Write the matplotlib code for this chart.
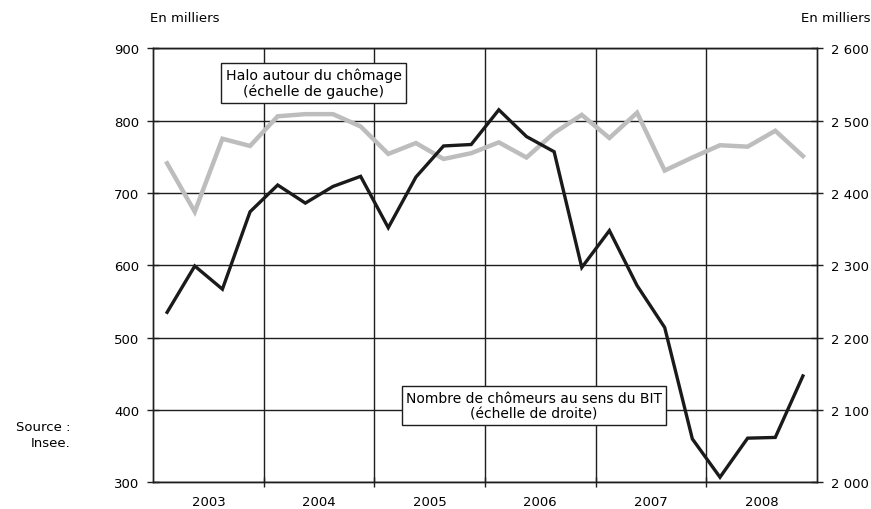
import matplotlib
matplotlib.use("Agg")
import matplotlib.pyplot as plt

plt.rcParams['font.family'] = ['DejaVu Sans']

years = ["2003", "2004", "2005", "2006", "2007", "2008"]
quarters = list(range(24))

# Halo autour du chômage (left scale, thousands)
halo = [741, 674, 775, 765, 806, 809, 809, 792, 754, 769, 747, 755,
        770, 749, 783, 808, 776, 811, 731, 749, 766, 764, 786, 751]

# Nombre de chômeurs au sens du BIT (right scale, thousands)
chomeurs = [2235, 2299, 2267, 2374, 2411, 2386, 2409, 2423, 2352, 2422, 2465, 2467,
            2515, 2478, 2457, 2297, 2348, 2272, 2214, 2060, 2007, 2061, 2062, 2147]

left_ticks = [300, 400, 500, 600, 700, 800, 900]
right_ticks = [2000, 2100, 2200, 2300, 2400, 2500, 2600]

fig = plt.figure(figsize=(8.71, 5.10), dpi=100)
ax = fig.add_axes([0.176, 0.0524, 0.7617, 0.8509])
ax2 = ax.twinx()

ax.set_xlim(-0.5, 23.5)
ax.set_ylim(300, 900)
ax2.set_ylim(2000, 2600)

# grid
for y in left_ticks:
    ax.axhline(y, color='#1e1e1e', lw=1.0, zorder=1)
for b in [3.5, 7.5, 11.5, 15.5, 19.5]:
    ax.axvline(b, color='#1e1e1e', lw=1.0, zorder=1)

ax.plot(quarters, halo, color='#bdbdbd', lw=3.2, solid_joinstyle='miter', zorder=3)
ax2.plot(quarters, chomeurs, color='#1a1a1a', lw=2.4, solid_joinstyle='miter', zorder=4)

ax.set_yticks(left_ticks)
ax.set_yticklabels([str(v) for v in left_ticks])
ax2.set_yticks(right_ticks)
ax2.set_yticklabels([f"{v // 1000} {v % 1000:03d}" for v in right_ticks])

ax.set_xticks([3.5, 7.5, 11.5, 15.5, 19.5])
ax.set_xticklabels([])
ax.set_xticks([1.5 + 4 * i for i in range(6)], minor=True)
ax.set_xticklabels(years, minor=True)
ax.tick_params(axis='x', which='major', direction='inout', length=7, width=1, color='#1e1e1e')
ax.tick_params(axis='x', which='minor', length=0, pad=9, labelsize=9.5)
ax.tick_params(axis='y', direction='inout', length=8, width=1, color='#1e1e1e', labelsize=9.5, pad=6)
ax2.tick_params(axis='y', direction='inout', length=8, width=1, color='#1e1e1e', labelsize=9.5, pad=6)

for a in (ax, ax2):
    for s in a.spines.values():
        s.set_color('#1e1e1e')
        s.set_linewidth(1.0)

ax2.set_zorder(ax.get_zorder() + 1)
ax2.patch.set_visible(False)

fig.text(150 / 871, 1 - 18 / 510, "En milliers", ha='left', va='center', fontsize=9.5)
fig.text(870 / 871, 1 - 18 / 510, "En milliers", ha='right', va='center', fontsize=9.5)
fig.text(70 / 871, 1 - 436 / 510, "Source :\nInsee.", ha='right', va='center', fontsize=9.5,
         multialignment='right', linespacing=1.3)

box = dict(boxstyle='square,pad=0.3', facecolor='white', edgecolor='#1e1e1e', lw=1.0)
fig.text(313.7 / 871, 1 - 83.7 / 510, "Halo autour du chômage\n(échelle de gauche)",
         ha='center', va='center', fontsize=10.2, multialignment='center', bbox=box, zorder=10)
fig.text(533.8 / 871, 1 - 406.7 / 510, "Nombre de chômeurs au sens du BIT\n(échelle de droite)",
         ha='center', va='center', fontsize=10.0, multialignment='center', bbox=box, zorder=10)

fig.savefig("out.png", dpi=100)
